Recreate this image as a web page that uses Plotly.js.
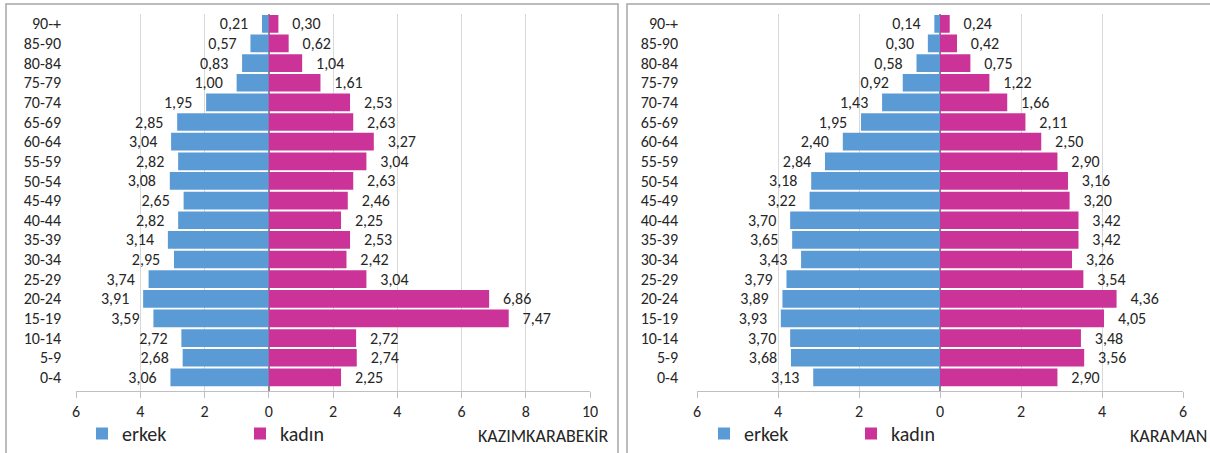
<!DOCTYPE html>
<html>
<head>
<meta charset="utf-8">
<script src="https://cdn.plot.ly/plotly-3.0.1.min.js"></script>
<style>
html,body{margin:0;padding:0;background:#fff;}
#chart{width:1210px;height:453px;}
</style>
</head>
<body>
<div id="chart"></div>
<script>
// Age groups, bottom to top
const ageGroups = ["0-4","5-9","10-14","15-19","20-24","25-29","30-34","35-39","40-44","45-49","50-54","55-59","60-64","65-69","70-74","75-79","80-84","85-90","90-+"];

// Kazımkarabekir (%)
const kazimErkek = [3.06,2.68,2.72,3.59,3.91,3.74,2.95,3.14,2.82,2.65,3.08,2.82,3.04,2.85,1.95,1.00,0.83,0.57,0.21];
const kazimKadin = [2.25,2.74,2.72,7.47,6.86,3.04,2.42,2.53,2.25,2.46,2.63,3.04,3.27,2.63,2.53,1.61,1.04,0.62,0.30];

// Karaman (%)
const karamanErkek = [3.13,3.68,3.70,3.93,3.89,3.79,3.43,3.65,3.70,3.22,3.18,2.84,2.40,1.95,1.43,0.92,0.58,0.30,0.14];
const karamanKadin = [2.90,3.56,3.48,4.05,4.36,3.54,3.26,3.42,3.42,3.20,3.16,2.90,2.50,2.11,1.66,1.22,0.75,0.42,0.24];

const leftTicks = [-6,-4,-2,0,2,4,6,8,10];
const rightTicks = [-6,-4,-2,0,2,4,6];

const seriesNames = ["erkek","kadın"];
const panelNames = ["KAZIMKARABEKİR","KARAMAN"];

const BLUE = "#5B9BD5";
const PINK = "#CC3399";
const FONT = "Carlito, Calibri, Lato, sans-serif";
const TXT = "#262626";
const PAD = "\u00A0\u00A0\u00A0";

const fmt = v => v.toFixed(2).replace(".", ",");

function bars(vals, isMale, xa, ya, legend) {
  return {
    type: "bar",
    orientation: "h",
    name: isMale ? seriesNames[0] : seriesNames[1],
    y: ageGroups,
    x: vals.map(v => isMale ? -v : v),
    text: vals.map(v => isMale ? fmt(v) + PAD : PAD + fmt(v)),
    textposition: "outside",
    textfont: {family: FONT, size: 16, color: TXT},
    cliponaxis: false,
    constraintext: "none",
    marker: {color: isMale ? BLUE : PINK, line: {width: 0}},
    xaxis: xa, yaxis: ya,
    legend: legend,
    showlegend: true,
    hoverinfo: "skip"
  };
}

const data = [
  bars(kazimErkek, true, "x", "y", "legend"),
  bars(kazimKadin, false, "x", "y", "legend"),
  bars(karamanErkek, true, "x2", "y2", "legend2"),
  bars(karamanKadin, false, "x2", "y2", "legend2")
];

const W = 1210, H = 453;
const px = v => v / W;
const py = v => (H - v) / H;

function xAxis(domain, ticks, anchor) {
  return {
    domain: domain,
    range: [ticks[0], ticks[ticks.length - 1]],
    tickmode: "array",
    tickvals: ticks,
    ticktext: ticks.map(t => String(Math.abs(t))),
    showgrid: true, gridcolor: "#D9D9D9", gridwidth: 1,
    zeroline: true, zerolinecolor: "#8C8C8C", zerolinewidth: 1.5,
    showline: true, linecolor: "#BFBFBF", linewidth: 1,
    ticks: "outside", ticklen: 6, tickcolor: "#BFBFBF",
    tickfont: {family: FONT, size: 16, color: TXT},
    anchor: anchor, fixedrange: true
  };
}
function yAxis(anchor, standoff) {
  return {
    domain: [py(392), py(14)],
    type: "category",
    categoryorder: "array", categoryarray: ageGroups,
    tickmode: "array", tickvals: ageGroups, ticktext: ageGroups,
    range: [-0.7, 18.5],
    showgrid: false, zeroline: false, showline: false,
    ticks: "", ticklabelstandoff: standoff,
    tickfont: {family: FONT, size: 16, color: TXT},
    anchor: anchor, fixedrange: true
  };
}

const layout = {
  width: W, height: H,
  margin: {l: 0, r: 0, t: 0, b: 0},
  paper_bgcolor: "#fff", plot_bgcolor: "#fff",
  barmode: "relative",
  bargap: 0.1,
  font: {family: FONT, color: TXT},
  xaxis: xAxis([px(76), px(590)], leftTicks, "y"),
  yaxis: yAxis("x", 14),
  xaxis2: xAxis([px(697), px(1183)], rightTicks, "y2"),
  yaxis2: yAxis("x2", 18),
  legend: {
    orientation: "h", x: px(82), y: py(434), xanchor: "left", yanchor: "middle",
    font: {family: FONT, size: 20, color: TXT}, bgcolor: "rgba(0,0,0,0)",
    entrywidth: 113, entrywidthmode: "pixels", traceorder: "normal", itemclick: false, itemdoubleclick: false
  },
  legend2: {
    orientation: "h", x: px(704), y: py(434), xanchor: "left", yanchor: "middle",
    font: {family: FONT, size: 20, color: TXT}, bgcolor: "rgba(0,0,0,0)",
    entrywidth: 102, entrywidthmode: "pixels", traceorder: "normal", itemclick: false, itemdoubleclick: false
  },
  shapes: [
    {type: "rect", xref: "paper", yref: "paper", x0: px(6), x1: px(618), y0: -0.2, y1: py(4),
     line: {color: "#A6A6A6", width: 1.5}, fillcolor: "rgba(0,0,0,0)", layer: "below"},
    {type: "rect", xref: "paper", yref: "paper", x0: px(627), x1: 1.2, y0: -0.2, y1: py(4),
     line: {color: "#A6A6A6", width: 1.5}, fillcolor: "rgba(0,0,0,0)", layer: "below"}
  ],
  annotations: [
    {xref: "paper", yref: "paper", x: px(611), y: py(437), xanchor: "right", yanchor: "middle",
     text: panelNames[0], showarrow: false, font: {family: FONT, size: 18, color: TXT}},
    {xref: "paper", yref: "paper", x: px(1209), y: py(437), xanchor: "right", yanchor: "middle",
     text: panelNames[1], showarrow: false, font: {family: FONT, size: 18, color: TXT}}
  ]
};

Plotly.newPlot("chart", data, layout, {staticPlot: true, displayModeBar: false});
</script>
</body>
</html>
